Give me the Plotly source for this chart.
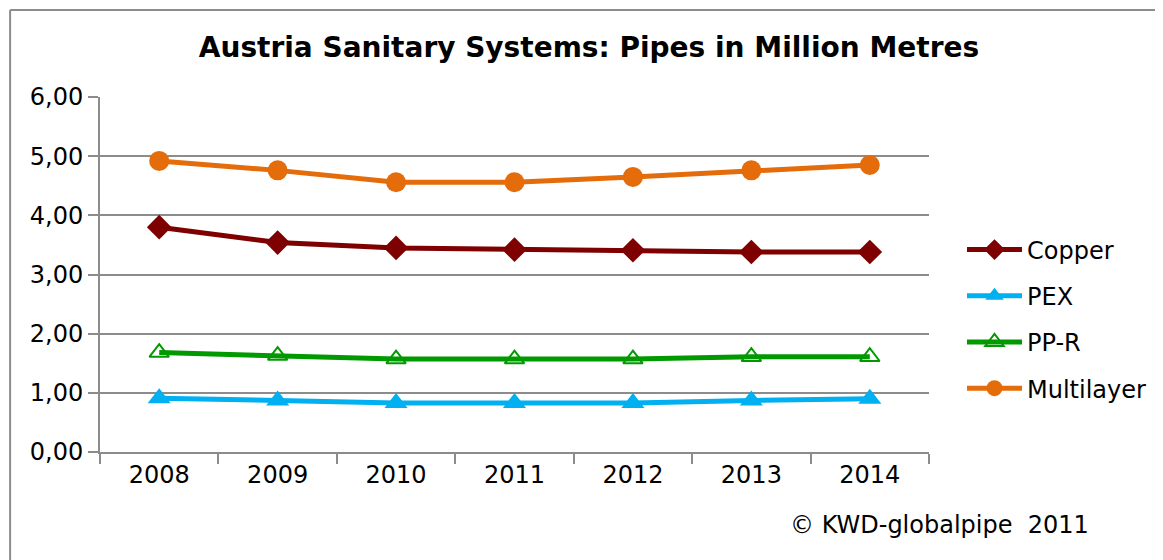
import plotly.graph_objects as go

years = ["2008", "2009", "2010", "2011", "2012", "2013", "2014"]
copper = [3.80, 3.54, 3.45, 3.42, 3.41, 3.38, 3.38]
pex = [0.91, 0.87, 0.83, 0.83, 0.83, 0.87, 0.90]
ppr = [1.68, 1.63, 1.57, 1.57, 1.57, 1.61, 1.61]
multilayer = [4.92, 4.76, 4.56, 4.56, 4.65, 4.76, 4.85]
y_ticks = [0, 1, 2, 3, 4, 5, 6]

FONT = "DejaVu Sans"
# page body has an 8px margin; plot area in absolute px: x 100..930, y 97..452
PL, PR, PT, PB = 100, 930, 97, 452
def px(x):
    return (x - PL) / (PR - PL)
def py(y):
    return (PB - y) / (PB - PT)

fig = go.Figure()
fig.add_trace(go.Scatter(x=years, y=copper, name="Copper", mode="lines+markers",
                         legendgroup="a",
                         line=dict(color="#7f0000", width=5),
                         marker=dict(symbol="diamond", size=19, color="#7f0000")))
fig.add_trace(go.Scatter(x=years, y=pex, name="PEX", mode="lines+markers",
                         legendgroup="b",
                         line=dict(color="#00b0f0", width=5),
                         marker=dict(symbol="triangle-up", size=20, color="#00b0f0")))
fig.add_trace(go.Scatter(x=years, y=ppr, name="PP-R", mode="lines+markers",
                         legendgroup="c",
                         line=dict(color="#009900", width=5),
                         marker=dict(symbol="triangle-up-open", size=17, color="#009900",
                                     line=dict(width=2, color="#009900"))))
fig.add_trace(go.Scatter(x=years, y=multilayer, name="Multilayer", mode="lines+markers",
                         legendgroup="d",
                         line=dict(color="#e46c0a", width=5),
                         marker=dict(symbol="circle", size=20, color="#e46c0a")))

fig.update_layout(
    width=1155, height=552,
    margin=dict(l=PL - 8, r=1155 - (PR - 8), t=PT - 8, b=552 - (PB - 8)),
    paper_bgcolor="white", plot_bgcolor="white",
    font=dict(family=FONT, size=24, color="black"),
    separators=",.",
    title=dict(text="<b>Austria Sanitary Systems: Pipes in Million Metres</b>",
               x=(589 - 8) / 1155, xanchor="center", y=1 - (47 - 8) / 552, yanchor="middle",
               font=dict(family=FONT, size=28, color="black")),
    showlegend=True,
    legend=dict(x=px(962), xanchor="left", y=py(319), yanchor="middle",
                font=dict(family=FONT, size=24), itemwidth=55,
                tracegroupgap=12, bgcolor="rgba(0,0,0,0)"),
    xaxis=dict(type="category", range=[-0.5, 6.5], showline=True, linecolor="#8c8c8c",
               linewidth=2, ticks="outside", tickson="boundaries", ticklen=10,
               tickcolor="#8c8c8c", tickwidth=1.5, showgrid=False,
               tickfont=dict(size=24), fixedrange=True),
    yaxis=dict(range=[0, 6], tickvals=y_ticks, tickformat=".2f", showline=True,
               linecolor="#8c8c8c", linewidth=2, ticks="outside", ticklen=10,
               tickcolor="#8c8c8c", tickwidth=1.5, showgrid=True,
               gridcolor="#8c8c8c", gridwidth=2, zeroline=False,
               tickfont=dict(size=24), fixedrange=True),
    annotations=[dict(text="© KWD-globalpipe  2011", xref="paper", yref="paper",
                      x=px(1092), y=py(525), xanchor="right",
                      yanchor="middle", showarrow=False,
                      font=dict(family=FONT, size=24, color="black"))],
    shapes=[
        dict(type="line", xref="paper", yref="paper",
             x0=px(10), x1=px(1175), y0=py(10), y1=py(10),
             line=dict(color="#8c8c8c", width=2), layer="below"),
        dict(type="line", xref="paper", yref="paper",
             x0=px(10), x1=px(10), y0=py(10), y1=py(575),
             line=dict(color="#8c8c8c", width=2), layer="below"),
    ],
)

fig.write_html("out.html")
